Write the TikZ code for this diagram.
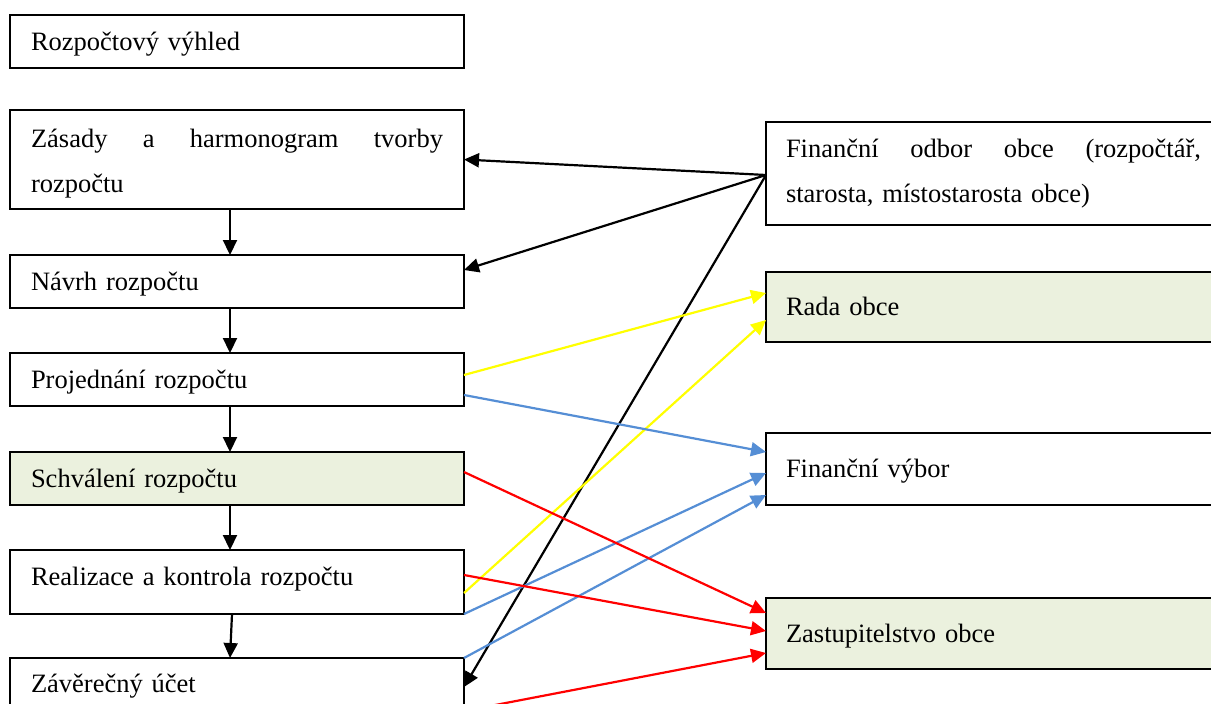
\documentclass[tikz,border=0pt]{standalone}
\usepackage{fontspec}
\setmainfont{Liberation Serif}
\usetikzlibrary{arrows.meta,positioning}
\definecolor{boxgreen}{HTML}{EBF1DE}
\definecolor{linkblue}{HTML}{558ED5}
\definecolor{linkyellow}{HTML}{FFFF00}
\definecolor{linkred}{HTML}{FF0000}

\begin{document}
\begin{tikzpicture}[
    x=1pt, y=-1pt,
    node distance=45pt,
    every node/.style={font=\fontsize{26.5pt}{45.5pt}\selectfont},
    box/.style={rectangle, draw, line width=2pt, outer sep=0pt, inner ysep=0pt, inner xsep=21pt, text width=412pt, align=left, text height=35pt, text depth=18pt},
    sidebox/.style={box, inner xsep=20pt, text width=415pt},
    greenbox/.style={fill=boxgreen},
    arrow/.style={-{Triangle[length=15pt, width=14pt]}, line width=2.2pt}
]
    \useasboundingbox (0,0) rectangle (1211,704);
    \clip (0,0) rectangle (1211,704);
    \fill[white] (0,0) rectangle (1211,704);

    % process steps
    \node[box, anchor=north west] (vyhled) at (10,15) {Rozpočtový výhled};
    \node[box, below=42pt of vyhled, text height=37pt, text depth=62pt] (zasady) {\hbox to 412pt{Zásady\hfill a\hfill harmonogram\hfill tvorby}\\rozpočtu};
    \node[box, below=46pt of zasady] (navrh) {Návrh rozpočtu};
    \node[box, below=of navrh] (projednani) {Projednání rozpočtu};
    \node[box, greenbox, below=46pt of projednani] (schvaleni) {Schválení rozpočtu};
    \node[box, below=of schvaleni, text depth=29pt] (realizace) {Realizace a kontrola rozpočtu};
    \node[box, below=44pt of realizace, text height=34pt, text depth=30pt] (zaverecny) {Závěrečný účet};

    % bodies
    \node[sidebox, anchor=north west, text depth=68pt] (odbor) at (766,122) {\hbox to 415pt{Finanční\hfill odbor\hfill obce\hfill (rozpočtář,}\\starosta, místostarosta obce)};
    \node[sidebox, greenbox, below=47pt of odbor, text height=43pt, text depth=27pt] (rada) {Rada obce};
    \node[sidebox, below=91pt of rada, text height=44pt, text depth=28pt] (vybor) {Finanční výbor};
    \node[sidebox, greenbox, below=93pt of vybor, text height=44pt, text depth=27pt] (zastupitelstvo) {Zastupitelstvo obce};

    % flow
    \foreach \a/\b in {zasady/navrh, navrh/projednani, projednani/schvaleni, schvaleni/realizace}
        \draw[arrow] ([xshift=-7pt]\a.south) -- ([xshift=-7pt]\b.north);
    \draw[arrow] ([xshift=-5pt]realizace.south) -- ([xshift=-7pt]zaverecny.north);

    % links
    \draw[arrow] ([yshift=-53pt]odbor.north west) -- (zasady.east);
    \draw[arrow] ([yshift=-53pt]odbor.north west) -- ([yshift=-15pt]navrh.north east);
    \draw[arrow] ([yshift=-53pt]odbor.north west) -- ([yshift=-29pt]zaverecny.north east);

    \draw[arrow, linkyellow] ([yshift=-22pt]projednani.north east) -- ([yshift=-21pt]rada.north west);
    \draw[arrow, linkyellow] ([yshift=-43pt]realizace.north east) -- ([yshift=-48pt]rada.north west);

    \draw[arrow, linkblue] ([yshift=-42pt]projednani.north east) -- ([yshift=-19pt]vybor.north west);
    \draw[arrow, linkblue] (realizace.south east) -- ([yshift=-40pt]vybor.north west);
    \draw[arrow, linkblue] (zaverecny.north east) -- ([yshift=-62pt]vybor.north west);

    \draw[arrow, linkred] ([yshift=-20pt]schvaleni.north east) -- ([yshift=-15pt]zastupitelstvo.north west);
    \draw[arrow, linkred] ([yshift=-25pt]realizace.north east) -- ([yshift=-33pt]zastupitelstvo.north west);
    \draw[arrow, linkred] ([yshift=-53pt]zaverecny.north east) -- ([yshift=-55pt]zastupitelstvo.north west);
\end{tikzpicture}
\end{document}
